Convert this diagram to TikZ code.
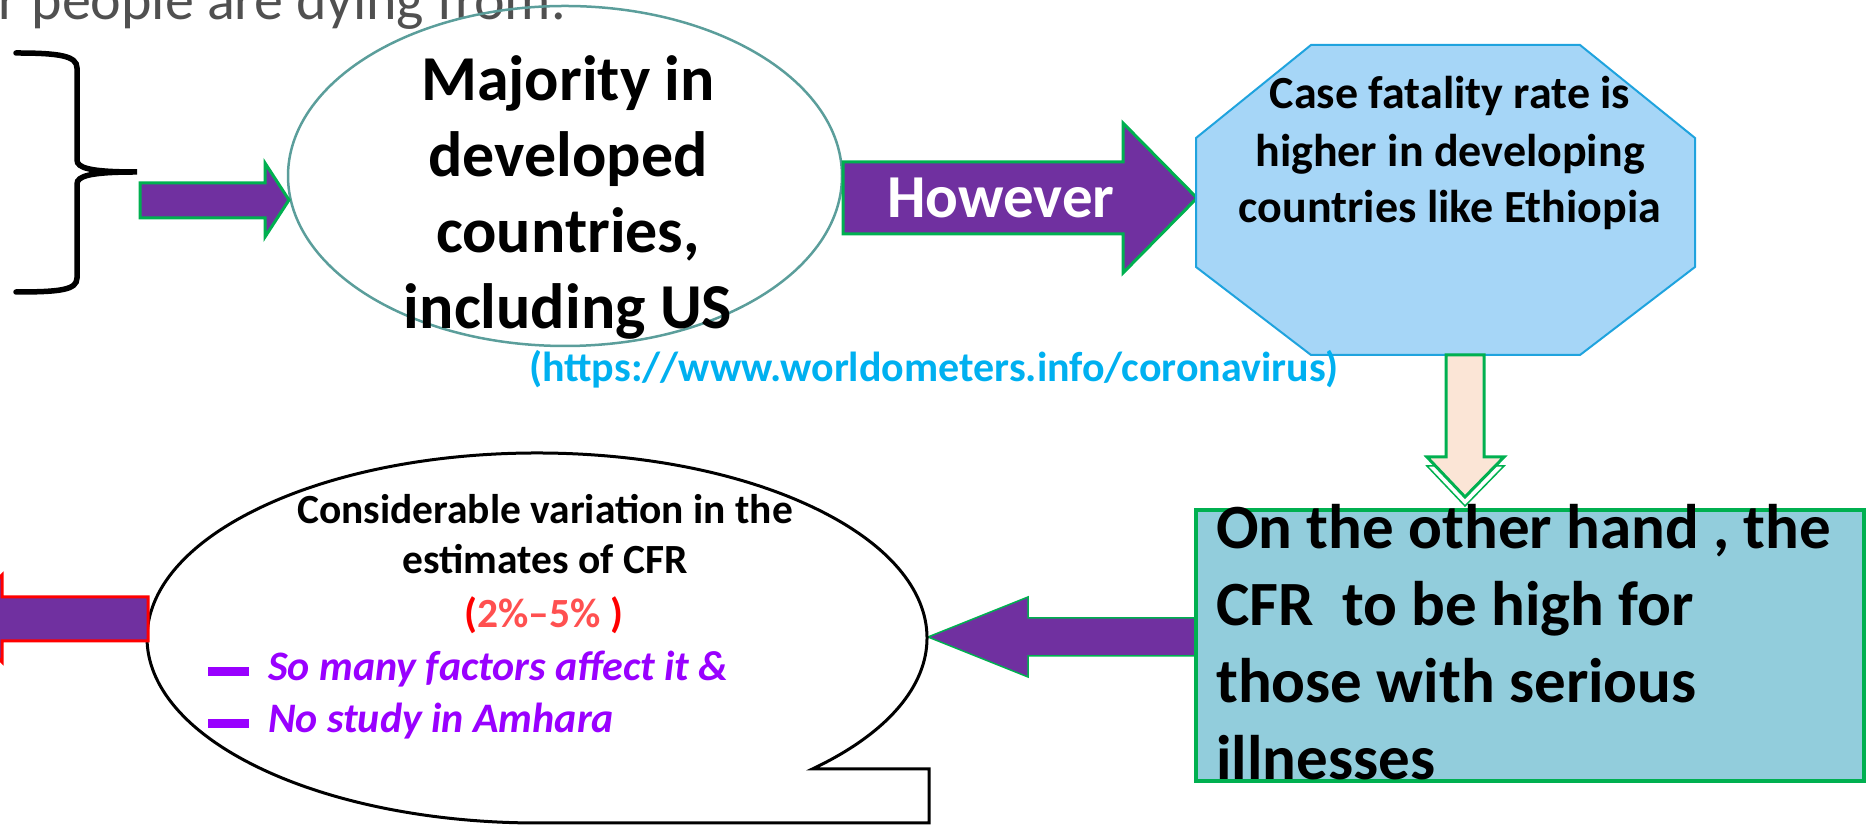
\documentclass[tikz,border=0pt]{standalone}
\usepackage{fontspec}
\setmainfont{Carlito}
\usetikzlibrary{shapes.geometric}
\definecolor{arrowpurple}{HTML}{7030A0}
\definecolor{arrowgreen}{HTML}{00B050}
\definecolor{tealline}{HTML}{5B9E9B}
\definecolor{octfill}{HTML}{A6D6F7}
\definecolor{octline}{HTML}{1FA3DE}
\definecolor{urlblue}{HTML}{00B0F0}
\definecolor{peach}{HTML}{FBE5D6}
\definecolor{rectfill}{HTML}{92CDDC}
\definecolor{bulletviolet}{HTML}{9900FF}
\definecolor{lightred}{HTML}{FF5050}
\definecolor{graytext}{HTML}{505050}
\begin{document}
\begin{tikzpicture}[x=1pt,y=1pt,
  blockarrow/.style={fill=arrowpurple, draw=arrowgreen, line width=3pt, line join=miter},
  linetxt/.style={inner sep=0pt, anchor=base},
  leftline/.style={inner sep=0pt, anchor=base west},
  elltxt/.style={linetxt, font=\bfseries\fontsize{64}{76}\selectfont},
  octtxt/.style={linetxt, font=\bfseries\fontsize{46}{57}\selectfont},
  recttxt/.style={leftline, font=\bfseries\fontsize{63}{77}\selectfont},
  bubtxt/.style={linetxt, font=\bfseries\fontsize{41.5}{50}\selectfont},
  bultxt/.style={leftline, text=bulletviolet, font=\bfseries\itshape\fontsize{42}{50}\selectfont},
  bulbar/.style={fill=bulletviolet, inner sep=0pt, minimum width=41pt, minimum height=9pt},
]
\useasboundingbox (0,0) rectangle (1869,826);
\clip (0,0) rectangle (1869,826);

% top cut-off text
\node[leftline, text=graytext, font=\fontsize{58}{70}\selectfont] (toptext) at (-2,806) {r people are dying from.};

% brace
\draw[line width=5.5pt, line cap=round] (16,773) .. controls (60,773) and (77,770) .. (77,758) -- (77,666)
  .. controls (77,658) and (90,654) .. (137,654) .. controls (90,654) and (77,650) .. (77,642)
  -- (77,548) .. controls (77,536) and (60,534) .. (16,534);
\coordinate (bracetip) at (137,654);

% ellipse 1
\node[draw=tealline, line width=2.5pt, ellipse, minimum width=554pt, minimum height=340pt, inner sep=0pt, outer sep=0pt] (dev) at (565,650) {};
\node[elltxt] (dev1) at (568,725) {Majority in};
\node[elltxt] (dev2) at (568,649) {developed};
\node[elltxt] (dev3) at (568,573) {countries,};
\node[elltxt] (dev4) at (568,497) {including US};

% small arrow brace -> ellipse
\draw[blockarrow] (140,608) -- (265,608) -- (265,589) -- (289,626) -- (265,663) -- (265,643) -- (140,643) -- cycle;

% However arrow
\draw[blockarrow] (843,592) -- (1123,592) -- (1123,553) -- (1197,628) -- (1123,703) -- (1123,664) -- (843,664) -- cycle;
\node[linetxt, text=white, font=\bfseries\fontsize{61}{73}\selectfont] (however) at (1001,608) {However};

% octagon
\draw[fill=octfill, draw=octline, line width=2pt] (1311,781) -- (1580,781) -- (1695,688) -- (1695,559) -- (1580,471) -- (1311,471) -- (1196,559) -- (1196,688) -- cycle;
\coordinate (oct) at (1445,626);
\node[octtxt] (oct1) at (1450,717) {Case fatality rate is};
\node[octtxt] (oct2) at (1450,659) {higher in developing};
\node[octtxt] (oct3) at (1450,603) {countries like Ethiopia};

% url
\node[linetxt, text=urlblue, font=\bfseries\fontsize{42}{50}\selectfont] (url) at (934,444) {(https://www.worldometers.info/coronavirus)};

% down arrow with shadow
\draw[fill=white, draw=arrowgreen, line width=1.5pt] (1446,462) -- (1484,462) -- (1484,360) -- (1504,360) -- (1465,320) -- (1427,360) -- (1446,360) -- cycle;
\draw[fill=peach, draw=arrowgreen, line width=3pt] (1446,471) -- (1484,471) -- (1484,369) -- (1504,369) -- (1465,329) -- (1427,369) -- (1446,369) -- cycle;

% left arrow rect -> bubble
\draw[fill=arrowpurple, draw=arrowgreen, line width=1.5pt] (1200,170) -- (1028,170) -- (1028,149) -- (928,189) -- (1028,229) -- (1028,208) -- (1200,208) -- cycle;

% rectangle
\node[draw=arrowgreen, fill=rectfill, line width=4pt, minimum width=668pt, minimum height=271pt, inner sep=0pt, outer sep=0pt, anchor=south west] (rect) at (1196,45) {};
\node[recttxt] (r1) at (1216,277) {On the other hand , the};
\node[recttxt] (r2) at (1216,200) {CFR\ \ to be high for};
\node[recttxt] (r3) at (1216,123) {those with serious};
\node[recttxt] (r4) at (1216,46) {illnesses};

% speech bubble
\draw[fill=white, draw=black, line width=3pt, line join=miter] (812.8,57.2) arc[start angle=-45, end angle=270, x radius=390, y radius=185] -- (929,3) -- (929,57.2) -- cycle;
\coordinate (bubble) at (537,188);
\node[bubtxt] (b1) at (545,302) {Considerable variation in the};
\node[bubtxt] (b2) at (545,252) {estimates of CFR};
\node[bubtxt] (b3) at (544,198) {\textcolor{red}{(}\textcolor{lightred}{2\%–5\%}\textcolor{red}{\ )}};
\node[bulbar] (bar1) at (228.5,154) {};
\node[bultxt] (bl1) at (268,145) {So many factors affect it \&};
\node[bulbar] (bar2) at (228.5,102) {};
\node[bultxt] (bl2) at (268,93) {No study in Amhara};

% left red-outlined arrow
\draw[fill=arrowpurple, draw=red, line width=3pt, line join=miter] (148,185) -- (148,229) -- (2,229) -- (2,251) -- (-43,207) -- (2,164) -- (2,185) -- cycle;
\end{tikzpicture}
\end{document}
